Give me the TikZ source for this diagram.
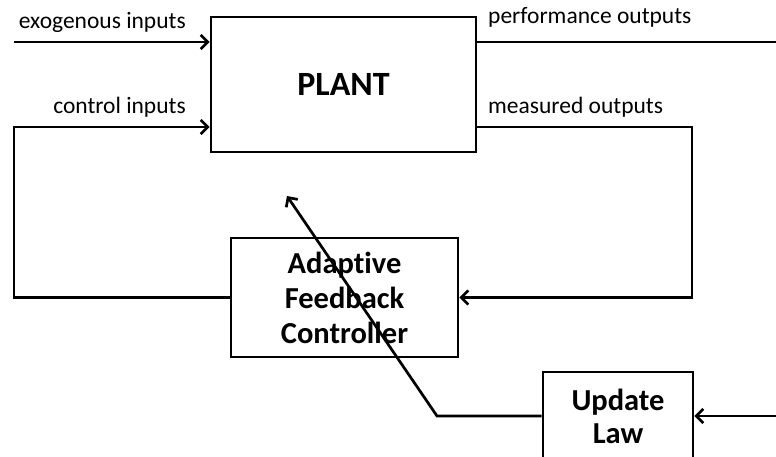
\documentclass[tikz,border=0pt]{standalone}
\usepackage{fontspec}
\setmainfont{Carlito}[Ligatures=NoCommon]
\usetikzlibrary{arrows.meta}

\tikzset{
	block/.style={draw, line width=2.7pt, align=center, inner sep=0pt},
	signal/.style={line width=2.7pt},
	lbl/.style={font=\fontsize{23.5}{28}\selectfont, inner sep=0pt}
}

\begin{document}
\begin{tikzpicture}
				[
				x=1pt, y=1pt, >={Straight Barb[length=7pt, width=14pt]}
				%Pixelmaße des Originals, y nach unten negativ
				]
				\useasboundingbox (0,0) rectangle (776,-457);
				\clip (0,0) rectangle (776,-457);
				%Bloecke
				\node[block, minimum width=265, minimum height=135, font=\fontsize{34}{40}\selectfont\bfseries] (plant) at (343.5,-84.5) {PLANT};
				\node[block, minimum width=227, minimum height=119, font=\fontsize{30.5}{35}\selectfont\bfseries] (ctrl) at (344.5,-297.5) {Adaptive\\Feedback\\Controller};
				\node[block, minimum width=150, minimum height=88, font=\fontsize{30.5}{33}\selectfont\bfseries] (update) at (618,-416) {Update\\Law};
				%Hilfspunkte
				\coordinate (exo) at (14,-42);
				\coordinate (cin) at (14,-127);
				\coordinate (perf) at (776,-42);
				\coordinate (meas) at (692,-127);
				\coordinate (upin) at (776,-416);
				\coordinate (bend) at (437,-416);
				\coordinate (tip) at (287,-196);
				%Signale
				\draw[signal, ->] (exo) -- (exo -| plant.west);
				\draw[signal, ->] (ctrl.west) -| (cin) -- (cin -| plant.west);
				\draw[signal] (perf -| plant.east) -- (perf);
				\draw[signal, ->] (meas -| plant.east) -- (meas) |- (ctrl.east);
				\draw[signal, ->] (upin) -- (update.east);
				\draw[signal, ->] (update.west) -- (bend) -- (tip);
				%Beschriftungen
				\node[lbl, anchor=base east] (exolbl) at (186,-29) {exogenous inputs};
				\node[lbl, anchor=base east] (cinlbl) at (186,-114) {control inputs};
				\node[lbl, anchor=base west] (perflbl) at (488,-24) {performance outputs};
				\node[lbl, anchor=base west] (measlbl) at (488,-114) {measured outputs};
			\end{tikzpicture}
\end{document}
